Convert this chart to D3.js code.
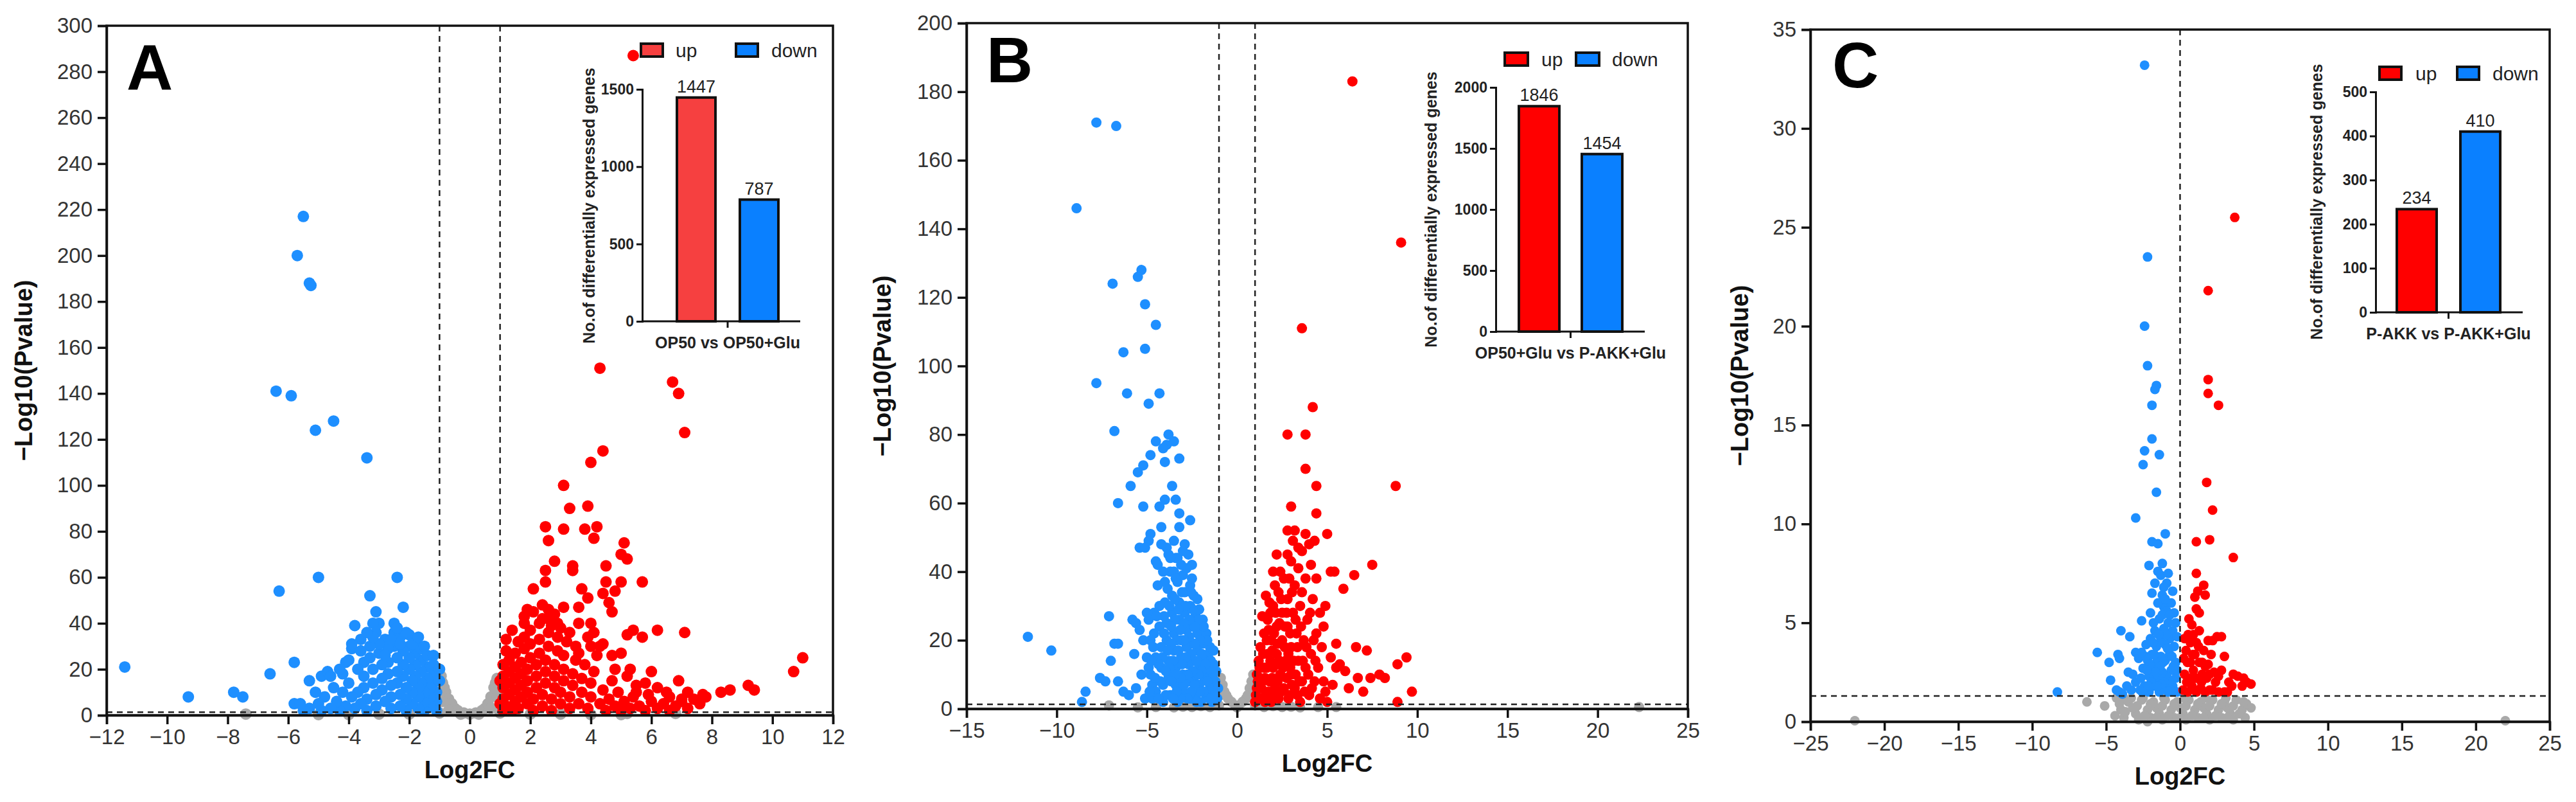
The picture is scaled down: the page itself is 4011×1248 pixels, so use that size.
<!DOCTYPE html>
<html><head><meta charset="utf-8">
<script src="https://cdn.jsdelivr.net/npm/d3@7"></script>
<style>body{margin:0;background:#fff}svg{display:block;font-family:"Liberation Sans",Arial,sans-serif}</style>
</head><body>
<svg id="c" width="4011" height="1248"></svg>
<script>
// ---------- DATA ----------
const panelLetters = ["A","B","C"];
const xTicksA = [-12,-10,-8,-6,-4,-2,0,2,4,6,8,10,12];
const yTicksA = [0,20,40,60,80,100,120,140,160,180,200,220,240,260,280,300];
const xTicksB = [-15,-10,-5,0,5,10,15,20,25];
const yTicksB = [0,20,40,60,80,100,120,140,160,180,200];
const xTicksC = [-25,-20,-15,-10,-5,0,5,10,15,20,25];
const yTicksC = [0,5,10,15,20,25,30,35];
const barCategories = ["OP50 vs OP50+Glu","OP50+Glu vs P-AKK+Glu","P-AKK vs P-AKK+Glu"];
const barUp = [1447,1846,234];
const barDown = [787,1454,410];
const barTicksA = [0,500,1000,1500];
const barTicksB = [0,500,1000,1500,2000];
const barTicksC = [0,100,200,300,400,500];

const aGrey = [[-0.9,14],[-0.8,10],[-0.7,7],[-0.6,5],[-0.5,3],[-0.4,2],[-0.2,1],[0,0.5],[0.2,1],[0.4,2],[0.5,3],[0.6,5],[0.7,8],[0.8,12],[0.9,16],[-0.9,6],[-0.7,2],[0.7,3],[0.9,8],[-0.3,0.5],[0.3,0.5],[-1,1],[1,1],[-2,0.5],[2,0.5],[-3,0.5],[3,0.5],[-4,0.3],[4,0.3],[-7.4,0.5],[5.2,0.8],[6.8,0.8],[-5,0.3],[5,0.3],[-0.85,12],[0.85,14],[-0.95,17],[0.95,11]];
const aBlue = [[-5.5,217],[-5.7,200],[-5.3,188],[-5.25,187],[-6.4,141],[-5.9,139],[-5.1,124],[-4.5,128],[-3.4,112],[-11.4,21],[-9.3,8],[-7.8,10],[-7.5,8],[-6.6,18],[-6.3,54],[-5.0,60],[-2.4,60],[-3.3,52],[-2.2,47],[-3.1,45],[-3.0,40],[-3.2,40],[-3.8,39],[-2.5,40],[-5.8,23],[-5.8,5],[-5.3,15],[-4.9,17],[-4.7,19],[-3.6,33],[-3.9,29],[-4.1,23],[-3.5,23],[-4.2,18],
[-1.1,2],[-1.1,6],[-1.1,10],[-1.2,14],[-1.2,18],[-1.3,4],[-1.3,8],[-1.3,12],[-1.4,16],[-1.4,21],[-1.5,2],[-1.5,6],[-1.5,10],[-1.6,14],[-1.6,19],[-1.6,24],[-1.7,3],[-1.7,8],[-1.7,12],[-1.8,17],[-1.8,22],[-1.8,27],[-1.9,5],[-1.9,10],[-1.9,15],[-2.0,20],[-2.0,25],[-2.0,30],[-2.1,2],[-2.1,7],[-2.1,12],[-2.2,17],[-2.2,22],[-2.2,28],[-2.3,34],[-2.3,4],[-2.3,9],[-2.4,14],[-2.4,19],[-2.4,25],[-2.5,30],[-2.5,36],[-2.6,3],[-2.6,8],[-2.6,13],[-2.7,18],[-2.7,23],[-2.7,29],[-2.8,33],[-2.8,6],[-2.9,11],[-2.9,16],[-2.9,22],[-3.0,27],[-3.0,31],[-3.1,4],[-3.1,9],[-3.2,14],[-3.2,20],[-3.3,25],[-3.3,30],[-3.4,2],[-3.4,7],[-3.5,12],[-3.5,17],[-3.6,5],[-3.7,10],[-3.7,20],[-3.8,3],[-3.9,8],[-4.0,14],[-4.1,4],[-4.2,10],[-4.3,2],[-4.4,6],[-4.5,12],[-4.6,3],[-4.8,8],[-4.9,2],[-5.0,5],[-5.1,10],[-5.3,3],[-5.5,2],[-5.6,5],[-2.0,35],[-1.8,32],[-2.6,33],[-2.1,36],[-1.9,31],[-1.6,29],[-1.4,26],[-1.2,22],[-2.8,26],[-3.1,36],[-2.4,38],[-3.6,28],[-3.2,34],[-4.3,20],[-4.0,24],[-4.6,17],[-3.9,31],[-3.4,36],[-1.2,26],[-1.5,30],[-2.3,31],[-1.7,34],[-1.0,20],[-1.0,15]];
const aRed = [[5.4,287],[4.3,151],[6.7,145],[6.9,140],[7.1,123],[4.4,115],[4.0,110],[3.1,100],[3.3,90],[3.9,91],[2.5,82],[3.1,81],[3.8,81],[4.2,82],[4.1,77],[2.6,76],[5.1,75],[5.0,70],[5.2,68],[2.8,67],[3.4,65],[4.5,65],[2.5,63],[3.4,63],[2.5,58],[4.5,58],[5.0,58],[5.7,58],[2.1,55],[3.7,55],[4.8,54],[4.4,53],[3.9,51],[4.6,49],[2.4,48],[2.6,46],[3.1,47],[1.9,46],[3.6,47],[4.7,45],[2.6,42],[2.9,40],[3.6,40],[4.0,40],[1.8,40],[5.4,37],[6.2,37],[7.1,36],[5.2,35],[5.7,34],[4.4,31],[4.0,30],[4.7,26],[5.0,27],[5.3,20],[6.0,19],[6.9,15],[7.2,10],[7.7,9],[8.3,10],[8.6,11],[9.2,13],[9.4,11],[10.7,19],[11.0,25],[6.2,12],[5.8,14],[5.5,10],[6.6,8],[7.0,7],
[1.1,2],[1.1,7],[1.1,12],[1.1,17],[1.1,22],[1.2,4],[1.3,9],[1.3,14],[1.3,19],[1.3,24],[1.4,2],[1.5,6],[1.5,11],[1.5,16],[1.5,21],[1.5,27],[1.6,3],[1.7,8],[1.7,13],[1.7,18],[1.7,23],[1.8,29],[1.8,34],[1.9,5],[1.9,10],[1.9,15],[1.9,20],[2.0,25],[2.0,31],[2.0,37],[2.1,2],[2.1,7],[2.2,12],[2.2,17],[2.2,22],[2.3,27],[2.3,33],[2.3,40],[2.4,4],[2.4,9],[2.5,14],[2.5,19],[2.5,24],[2.6,30],[2.6,36],[2.7,2],[2.7,7],[2.8,12],[2.8,17],[2.8,22],[2.9,28],[2.9,34],[3.0,5],[3.0,10],[3.1,15],[3.1,20],[3.1,26],[3.2,32],[3.3,3],[3.3,8],[3.4,13],[3.4,18],[3.5,24],[3.5,30],[3.6,5],[3.7,10],[3.7,16],[3.8,22],[3.9,3],[4.0,8],[4.0,14],[4.1,19],[4.2,26],[4.3,5],[4.4,11],[4.5,2],[4.6,7],[4.7,15],[4.8,4],[4.9,10],[5.0,2],[5.1,6],[5.3,3],[5.4,8],[5.6,4],[5.8,2],[6.0,6],[6.2,3],[6.4,5],[6.6,2],[6.8,4],[7.0,6],[7.2,3],[7.4,7],[7.6,5],[2.1,45],[2.4,42],[1.6,32],[1.2,28],[3.0,38],[2.7,39],[3.3,36],[3.9,34],[4.3,30],[4.8,20],[5.2,17],[5.5,13],[5.9,9],[6.5,10],[7.8,8],[1.0,5],[1.0,15],[1.2,33],[1.4,37],[1.8,43],[2.8,44],[3.6,27],[4.1,36]];

const bGrey = [[-0.9,9],[-0.8,7],[-0.7,5],[-0.6,4],[-0.5,3],[-0.3,2],[-0.1,1],[0.1,1],[0.3,2],[0.5,3],[0.6,4],[0.7,6],[0.8,8],[0.9,10],[-0.9,4],[0.9,5],[-1.5,0.5],[1.5,0.5],[-2.5,0.5],[2.5,0.5],[-3.5,0.4],[3.5,0.4],[-7.1,1],[22.3,0.5],[0,0.4],[5.5,0.5],[-5.5,0.4],[-1.0,1],[1.0,1],[-2.0,0.8],[2.0,0.8],[-3.0,0.6],[3.0,0.6],[-4.5,0.5],[4.5,0.5]];
const bBlue = [[-7.8,171],[-6.7,170],[-8.9,146],[-5.3,128],[-5.5,126],[-6.9,124],[-5.1,118],[-4.5,112],[-6.3,104],[-5.1,105],[-7.8,95],[-6.1,92],[-4.3,92],[-4.9,89],[-6.8,81],[-3.8,80],[-3.5,78],[-4.5,78],[-3.9,77],[-4.1,76],[-4.8,74],[-3.2,73],[-5.2,71],[-5.5,69],[-4.0,72],[-5.9,65],[-3.6,65],[-6.6,60],[-5.2,59],[-4.3,59],[-3.4,61],[-4.0,61],[-3.2,57],[-2.6,55],[-4.2,53],[-3.2,53],[-4.8,51],[-4.9,49],[-5.4,47],[-5.1,47],[-3.9,47],[-3.5,49],[-2.9,48],[-2.7,45],[-2.5,42],[-3.4,44],[-4.5,43],[-11.6,21],[-10.3,17],[-8.6,2],[-8.4,5],[-7.1,27],[-6.8,19],[-6.6,19],[-7.0,14],[-7.6,9],[-7.3,8],[-6.6,8],[-6.3,5],[-5.8,26],[-5.6,25],[-5.4,23],[-5.0,28],[-5.2,20],[-5.7,16],[-5.0,15],[-6.0,4],[-5.6,6],[-5.3,10],[-4.9,12],[-5.1,3],[-4.7,7],
[-1.1,3],[-1.2,8],[-1.3,13],[-1.4,2],[-1.5,6],[-1.5,11],[-1.6,16],[-1.7,4],[-1.8,9],[-1.8,14],[-1.9,19],[-2.0,2],[-2.0,24],[-2.1,7],[-2.1,12],[-2.2,17],[-2.2,22],[-2.3,4],[-2.3,27],[-2.4,9],[-2.4,14],[-2.5,19],[-2.5,24],[-2.6,30],[-2.6,3],[-2.7,8],[-2.7,13],[-2.8,18],[-2.8,23],[-2.9,28],[-2.9,34],[-3.0,5],[-3.0,10],[-3.1,15],[-3.1,20],[-3.2,26],[-3.2,31],[-3.3,37],[-3.3,2],[-3.4,7],[-3.4,12],[-3.5,17],[-3.5,22],[-3.6,28],[-3.6,33],[-3.7,40],[-3.7,4],[-3.8,9],[-3.8,14],[-3.9,20],[-3.9,25],[-4.0,31],[-4.0,37],[-4.1,2],[-4.1,7],[-4.2,12],[-4.2,18],[-4.3,24],[-4.3,30],[-4.4,36],[-4.4,42],[-4.5,5],[-4.5,15],[-4.6,22],[-4.6,28],[-4.7,3],[-4.8,10],[-4.8,20],[-4.9,26],[-3.0,39],[-2.8,41],[-3.3,44],[-3.0,46],[-2.4,33],[-2.1,29],[-1.9,26],[-1.7,22],[-1.5,18],[-1.3,17],[-2.6,36],[-3.5,40],[-3.8,45],[-4.2,48],
[-1.05,6],[-1.15,11],[-1.25,4],[-1.35,9],[-1.45,14],[-1.55,3],[-1.65,8],[-1.65,20],[-1.75,13],[-1.85,5],[-1.85,24],[-1.95,11],[-1.95,16],[-2.05,5],[-2.05,20],[-2.15,26],[-2.15,10],[-2.25,14],[-2.25,2],[-2.35,7],[-2.35,19],[-2.35,24],[-2.45,11],[-2.45,29],[-2.55,5],[-2.55,16],[-2.55,34],[-2.65,21],[-2.65,26],[-2.75,10],[-2.75,3],[-2.85,15],[-2.85,30],[-2.95,7],[-2.95,20],[-2.95,25],[-3.05,13],[-3.05,34],[-3.15,3],[-3.15,9],[-3.15,23],[-3.25,17],[-3.25,29],[-3.35,5],[-3.35,20],[-3.45,10],[-3.45,26],[-3.45,32],[-3.55,3],[-3.55,14],[-3.65,8],[-3.65,19],[-3.65,24],[-3.75,12],[-3.75,30],[-3.85,17],[-3.85,35],[-3.95,4],[-3.95,11],[-4.05,22],[-4.05,27],[-4.15,15],[-4.25,8],[-4.35,3],[-4.35,13],[-4.45,27],[-4.55,9],[-4.65,18],[-4.75,14],[-4.85,5],[-2.5,38],[-2.2,32],[-3.1,42],[-3.7,44],[-4.1,40],[-3.4,38]];
const bRed = [[6.4,183],[9.1,136],[3.6,111],[4.2,88],[2.8,80],[3.8,80],[3.8,70],[4.4,65],[8.8,65],[3.0,59],[4.4,57],[2.8,52],[3.2,52],[3.8,51],[5.0,51],[4.3,49],[3.1,49],[3.6,46],[4.0,48],[2.8,45],[7.5,42],[5.2,40],[5.4,40],[6.5,39],[3.4,41],[4.1,42],[5.9,35],[4.9,30],[4.8,24],[5.5,19],[6.6,18],[7.2,17],[9.4,15],[8.9,13],[7.9,10],[8.2,9],[7.4,9],[6.7,9],[9.7,5],[8.9,2],[6.2,6],[5.7,13],[5.5,12],[5.2,15],[6.0,11],[5.3,7],[4.9,5],[7.0,5],
[1.0,2],[1.1,6],[1.1,10],[1.2,14],[1.3,3],[1.3,18],[1.4,8],[1.5,12],[1.5,22],[1.6,4],[1.7,16],[1.7,26],[1.8,8],[1.9,2],[1.9,20],[2.0,12],[2.0,30],[2.1,6],[2.2,24],[2.2,16],[2.3,34],[2.3,3],[2.4,10],[2.5,20],[2.5,28],[2.6,6],[2.6,38],[2.7,14],[2.8,24],[2.8,32],[2.9,4],[3.0,18],[3.0,10],[3.1,28],[3.2,36],[3.2,6],[3.3,22],[3.4,14],[3.5,30],[3.5,2],[3.6,8],[3.7,20],[3.8,38],[3.8,12],[3.9,26],[4.0,4],[4.1,16],[4.2,32],[4.3,8],[4.4,22],[4.5,12],[4.6,3],[4.7,18],[4.8,8],[5.0,2],[1.4,27],[1.8,31],[2.1,36],[2.4,40],[3.0,43],[3.4,47],[2.0,40],[1.6,33],[4.4,38],[4.6,28],
[1.05,4],[1.15,8],[1.25,12],[1.35,6],[1.45,16],[1.55,2],[1.55,9],[1.65,12],[1.65,20],[1.75,5],[1.75,23],[1.85,14],[1.85,28],[1.95,9],[1.95,17],[2.05,4],[2.05,22],[2.15,13],[2.15,28],[2.25,8],[2.25,19],[2.35,14],[2.35,25],[2.45,5],[2.45,32],[2.55,12],[2.65,18],[2.65,24],[2.75,9],[2.75,28],[2.85,3],[2.85,16],[2.95,12],[2.95,22],[3.05,7],[3.05,34],[3.15,14],[3.25,10],[3.25,26],[3.35,4],[3.35,18],[3.45,8],[3.55,24],[3.65,14],[3.75,5],[3.85,18],[3.95,10],[4.05,28],[4.15,6],[4.25,20],[4.35,14],[2.2,45],[2.9,38],[3.6,34]];

const cGrey = [[-22,0.05],[22,0.05],[-6.3,1.0],[-5.1,0.8],[4.8,0.7],[-4.3,1.2],[-4.0,0.6],[-3.5,1.0],[-3.0,0.4],[-2.6,1.1],[-2.2,0.6],[-1.8,1.0],[-1.4,0.4],[-1.0,1.1],[-0.6,0.6],[-0.2,1.0],[0.2,0.4],[0.6,1.1],[1.0,0.6],[1.4,1.0],[1.8,0.4],[2.2,1.1],[2.6,0.6],[3.0,1.0],[3.4,0.4],[3.8,1.1],[4.2,0.6],[4.5,0.9],[-4.4,0.3],[-3.8,0.2],[-2.8,0.1],[-2.0,0.2],[-1.2,0.1],[-0.4,0.2],[0.4,0.1],[1.2,0.2],[2.0,0.1],[2.8,0.2],[3.6,0.1],[4.4,0.2],[-2.2,0.0],[0,0.7],[-3.2,0.7],[3.2,0.7],[-1.6,0.7],[1.6,0.7],
[-4.1,0.9],[-3.7,0.5],[-3.3,1.2],[-2.9,0.8],[-2.4,0.3],[-2.0,0.9],[-1.6,0.2],[-1.2,0.8],[-0.8,0.3],[-0.4,0.9],[0.0,0.2],[0.4,0.8],[0.8,0.3],[1.2,0.9],[1.6,0.2],[2.0,0.8],[2.4,0.3],[2.8,0.9],[3.2,0.2],[3.6,0.8],[4.0,0.4],[4.3,1.0],[-3.9,1.2],[-2.5,1.2],[-1.1,1.2],[0.3,1.2],[1.7,1.2],[3.1,1.2]];
const cBlue = [[-2.4,33.2],[-2.2,23.5],[-2.4,20],[-2.2,18],[-1.6,17],[-1.7,16.8],[-1.9,16],[-1.9,14.3],[-2.4,13.7],[-1.4,13.5],[-2.5,13],[-1.6,11.6],[-3,10.3],[-1.0,9.5],[-1.9,9.1],[-1.5,9],[-1.2,8],[-2.1,7.9],[-1.5,7.6],[-1.3,7.4],[-1.7,7],[-0.9,7],[-1.2,6.4],[-1.9,6.5],[-1.1,5.8],[-2.0,5.5],[-2.6,5.1],[-4.0,4.6],[-3.4,4.3],[-5.6,3.5],[-4.2,3.4],[-4.1,3.2],[-3.0,3.5],[-4.8,3.0],[-4.7,2.1],[-3.5,2.5],[-3.2,2.4],[-8.3,1.5],[-4.1,1.5],
[-0.2,1.5],[-0.3,2.2],[-0.3,3.0],[-0.4,3.8],[-0.5,4.6],[-0.5,1.8],[-0.6,2.6],[-0.7,3.4],[-0.7,4.2],[-0.8,5.0],[-0.8,1.5],[-0.9,2.3],[-1.0,3.1],[-1.0,3.9],[-1.1,4.7],[-1.1,1.7],[-1.2,2.5],[-1.3,3.3],[-1.3,4.1],[-1.4,5.2],[-1.4,1.5],[-1.5,2.2],[-1.6,3.0],[-1.6,3.8],[-1.7,4.6],[-1.8,1.8],[-1.8,2.6],[-1.9,3.4],[-2.0,4.2],[-2.1,1.5],[-2.1,2.3],[-2.2,3.1],[-2.3,3.9],[-2.4,1.8],[-2.5,2.7],[-2.7,1.6],[-2.8,3.2],[-3.0,2.0],[-3.3,1.6],[-3.6,1.8],[-3.9,1.4],[-4.3,1.6],[-0.4,5.5],[-0.6,6.0],[-0.9,5.6],[-1.2,5.4],[-1.5,6.0],[-1.1,6.8],[-0.2,4.3],[-0.2,2.6],
[-0.35,1.5],[-0.45,2.8],[-0.55,3.3],[-0.65,1.6],[-0.75,2.0],[-0.85,3.7],[-0.95,4.4],[-1.05,2.0],[-1.15,3.0],[-1.25,1.9],[-1.35,2.8],[-1.45,4.4],[-1.55,1.8],[-1.65,2.5],[-1.75,3.4],[-1.85,4.0],[-1.95,2.0],[-2.05,2.9],[-2.15,1.8],[-2.25,2.6],[-2.35,3.3],[-2.55,1.5],[-2.65,2.2],[-0.3,5.0],[-0.7,5.4],[-1.0,6.2],[-0.5,6.6],[-0.8,7.5],[-2.6,3.5],[-1.8,5.0]];
const cRed = [[3.7,25.5],[1.9,21.8],[1.9,17.3],[1.9,16.6],[2.6,16],[1.8,12.1],[2.2,10.7],[1.1,9.1],[2.0,9.2],[3.6,8.3],[1.1,7.5],[1.6,6.9],[1.2,6.6],[1.7,6.4],[1.0,6.3],[1.1,5.7],[1.3,5.5],[0.8,4.9],[2.5,4.3],[2.8,4.3],[1.9,4.1],[2.2,4.1],[1.1,4.0],[2.1,3.4],[3.0,3.3],[0.5,3.0],[1.5,3.0],[2.3,2.5],[3.9,2.3],[4.3,2.2],[4.5,2.0],[4.8,1.9],[4.2,1.8],[3.0,1.5],[3.2,1.5],[2.2,1.6],
[0.2,1.6],[0.3,2.4],[0.4,3.6],[0.5,1.5],[0.6,2.2],[0.7,3.0],[0.7,4.0],[0.8,1.8],[0.9,2.6],[1.0,3.4],[1.1,1.5],[1.2,2.2],[1.3,3.0],[1.4,1.7],[1.5,2.4],[1.6,3.6],[1.7,1.5],[1.8,2.2],[1.9,2.9],[2.0,1.6],[2.4,2.0],[2.6,1.5],[2.8,2.6],[3.5,1.8],[3.6,2.4],[0.9,4.4],[1.3,4.6],[0.3,4.2],[0.6,5.2],
[0.25,3.2],[0.45,2.0],[0.55,4.4],[0.85,3.4],[1.05,2.2],[1.25,3.8],[1.45,2.0],[1.7,2.8],[2.0,2.4],[2.6,2.3],[3.3,2.0]];

// ---------- DRAW ----------
const svg = d3.select("#c");
const RED = "#ff0000", BLUE = "#1e8fff", GREY = "#a9a9a9";

function panel(o) {
  const g = svg.append("g");
  const x = d3.scaleLinear().domain(o.xd).range([o.l, o.r]);
  const y = d3.scaleLinear().domain(o.yd).range([o.b, o.t]);
  const dots = (data, col) => g.append("g").selectAll("circle").data(data).join("circle")
    .attr("cx", d => x(d[0])).attr("cy", d => y(d[1])).attr("r", o.rad).attr("fill", col);
  dots(o.grey, GREY); dots(o.blue, BLUE); dots(o.red, RED);
  const dash = "9,7";
  o.vlines.forEach(v => g.append("line").attr("x1", x(v)).attr("x2", x(v)).attr("y1", o.t).attr("y2", o.b)
    .attr("stroke", "#222").attr("stroke-width", 2.5).attr("stroke-dasharray", dash));
  g.append("line").attr("x1", o.l).attr("x2", o.r).attr("y1", y(1.3)).attr("y2", y(1.3))
    .attr("stroke", "#222").attr("stroke-width", 2.5).attr("stroke-dasharray", dash);
  g.append("rect").attr("x", o.l).attr("y", o.t).attr("width", o.r - o.l).attr("height", o.b - o.t)
    .attr("fill", "none").attr("stroke", "#111").attr("stroke-width", 3.5);
  const xa = g.append("g").attr("transform", `translate(0,${o.b})`)
    .call(d3.axisBottom(x).tickValues(o.xt).tickSize(14).tickPadding(8).tickFormat(d => d < 0 ? "\u2212" + Math.abs(d) : d));
  const ya = g.append("g").attr("transform", `translate(${o.l},0)`)
    .call(d3.axisLeft(y).tickValues(o.yt).tickSize(14).tickPadding(8).tickFormat(d3.format("d")));
  [xa, ya].forEach(a => {
    a.select(".domain").attr("stroke", "#111").attr("stroke-width", 3.5);
    a.selectAll(".tick line").attr("stroke", "#111").attr("stroke-width", 3.5);
    a.selectAll("text").attr("font-size", 33).attr("fill", "#333");
  });
  g.append("text").attr("x", (o.l + o.r) / 2).attr("y", o.b + 98).attr("text-anchor", "middle")
    .attr("font-size", 38).attr("font-weight", "bold").attr("fill", "#111").text("Log2FC");
  g.append("text").attr("transform", `translate(${o.yl},${(o.t + o.b) / 2}) rotate(-90)`)
    .attr("text-anchor", "middle").attr("font-size", 38).attr("font-weight", "bold").attr("fill", "#111").text("\u2212Log10(Pvalue)");
  g.append("text").attr("x", o.lx).attr("y", o.ly).attr("font-size", 100).attr("font-weight", "bold").attr("fill", "#000").text(o.letter);

  const ib = o.ins;
  const by = d3.scaleLinear().domain([0, d3.max(ib.ticks)]).range([ib.b, ib.t]);
  const ig = g.append("g");
  const bars = [{v: ib.up, c: ib.upCol, x0: ib.x1}, {v: ib.down, c: ib.downCol, x0: ib.x2}];
  ig.selectAll("rect.bar").data(bars).join("rect").attr("x", d => d.x0).attr("y", d => by(d.v))
    .attr("width", ib.bw).attr("height", d => ib.b - by(d.v)).attr("fill", d => d.c).attr("stroke", "#111").attr("stroke-width", 4);
  ig.selectAll("text.val").data(bars).join("text").attr("x", d => d.x0 + ib.bw / 2).attr("y", d => by(d.v) - 8)
    .attr("text-anchor", "middle").attr("font-size", 27).attr("fill", "#222").text(d => d.v);
  const ba = ig.append("g").attr("transform", `translate(${ib.ax},0)`)
    .call(d3.axisLeft(by).tickValues(ib.ticks).tickSize(9).tickPadding(4).tickFormat(d3.format("d")));
  ba.select(".domain").attr("stroke", "#111").attr("stroke-width", 3);
  ba.selectAll(".tick line").attr("stroke", "#111").attr("stroke-width", 3);
  ba.selectAll("text").attr("font-size", 23).attr("font-weight", "bold").attr("fill", "#222");
  ig.append("line").attr("x1", ib.ax).attr("x2", ib.axEnd).attr("y1", ib.b).attr("y2", ib.b).attr("stroke", "#111").attr("stroke-width", 3);
  const mid = (ib.x1 + ib.x2 + ib.bw) / 2;
  ig.append("line").attr("x1", mid).attr("x2", mid).attr("y1", ib.b).attr("y2", ib.b + 10).attr("stroke", "#111").attr("stroke-width", 3);
  ig.append("text").attr("x", mid).attr("y", ib.b + 42).attr("text-anchor", "middle").attr("font-size", 25).attr("font-weight", "bold").attr("fill", "#222").text(ib.cat);
  ig.append("text").attr("transform", `translate(${ib.tx},${ib.ty}) rotate(-90)`).attr("text-anchor", "middle")
    .attr("font-size", 25).attr("font-weight", "bold").attr("fill", "#222").text("No.of differentially expressed genes");
  const leg = [{c: ib.upCol, t: "up", sx: ib.lg[0], tx: ib.lg[1]}, {c: ib.downCol, t: "down", sx: ib.lg[2], tx: ib.lg[3]}];
  leg.forEach(l => {
    ig.append("rect").attr("x", l.sx).attr("y", ib.ly - 10).attr("width", ib.lw).attr("height", 20).attr("fill", l.c).attr("stroke", "#111").attr("stroke-width", 4);
    ig.append("text").attr("x", l.tx).attr("y", ib.ly + 11).attr("font-size", 30).attr("fill", "#222").text(l.t);
  });
}

panel({letter: panelLetters[0], xd: [-12, 12], yd: [0, 300], xt: xTicksA, yt: yTicksA, l: 166, r: 1297, t: 40, b: 1113, rad: 9,
  yl: 50, lx: 197, ly: 140, vlines: [-1, 1], grey: aGrey, blue: aBlue, red: aRed,
  ins: {ticks: barTicksA, t: 139, b: 500, ax: 1000, axEnd: 1246, x1: 1054, x2: 1152, bw: 60, up: barUp[0], down: barDown[0],
    upCol: "#f64040", downCol: "#0a80ff", cat: barCategories[0], tx: 926, ty: 320, ly: 78, lw: 34, lg: [998, 1052, 1146, 1201]}});
panel({letter: panelLetters[1], xd: [-15, 25], yd: [0, 200], xt: xTicksB, yt: yTicksB, l: 1505, r: 2628, t: 36, b: 1103, rad: 8,
  yl: 1387, lx: 1536, ly: 128, vlines: [-1, 1], grey: bGrey, blue: bBlue, red: bRed,
  ins: {ticks: barTicksB, t: 136, b: 516, ax: 2329, axEnd: 2561, x1: 2365, x2: 2463, bw: 63, up: barUp[1], down: barDown[1],
    upCol: "#ff0000", downCol: "#0a80ff", cat: barCategories[1], tx: 2237, ty: 326, ly: 92, lw: 36, lg: [2343, 2400, 2454, 2510]}});
panel({letter: panelLetters[2], xd: [-25, 25], yd: [0, 35], xt: xTicksC, yt: yTicksC, l: 2819, r: 3970, t: 46, b: 1123, rad: 7.5,
  yl: 2722, lx: 2853, ly: 136, vlines: [0], grey: cGrey, blue: cBlue, red: cRed,
  ins: {ticks: barTicksC, t: 143, b: 486, ax: 3699, axEnd: 3928, x1: 3732, x2: 3831, bw: 62, up: barUp[2], down: barDown[2],
    upCol: "#ff0000", downCol: "#0a80ff", cat: barCategories[2], tx: 3616, ty: 314, ly: 114, lw: 34, lg: [3705, 3761, 3826, 3881]}});
</script>
</body></html>
